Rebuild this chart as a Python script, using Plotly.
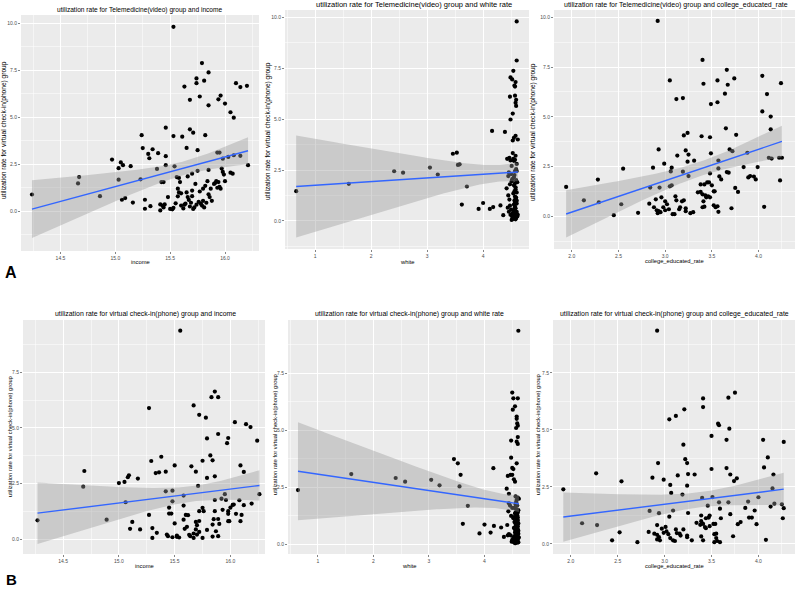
import numpy as np
import plotly.graph_objects as go

W, H = 800, 591

# ---------------- data ----------------
# Panel 1: Telemedicine(video) vs income
inc_video = [
    (14.24,0.89),(14.66,1.48),(14.67,1.82),(14.86,0.80),(14.97,2.75),(15.03,2.29),(15.05,2.60),(15.07,2.45),
    (15.03,1.68),(15.06,0.61),(15.09,0.70),(15.14,2.40),(15.16,0.46),(15.24,4.05),(15.23,1.70),(15.25,3.36),
    (15.30,3.05),(15.31,2.82),(15.34,3.30),(15.39,3.09),(15.38,2.25),(15.27,0.61),(15.27,0.13),(15.32,0.27),
    (15.41,0.36),(15.41,0.04),(15.43,0.30),(15.44,0.20),(15.45,0.36),(15.46,2.93),(15.46,2.45),(15.46,4.45),
    (15.42,1.55),(15.44,1.55),(15.53,9.82),(15.53,4.00),(15.54,2.39),(15.56,1.82),(15.58,1.77),(15.57,0.79),
    (15.59,1.55),(15.61,3.97),(15.63,6.64),(15.65,3.37),(15.68,5.93),(15.68,4.36),(15.71,4.18),(15.74,7.07),
    (15.74,6.82),(15.77,6.11),(15.79,7.89),(15.81,6.95),(15.85,7.39),(15.85,5.64),(15.82,4.05),(15.75,3.25),
    (15.93,3.12),(15.95,3.12),(15.94,5.96),(15.96,6.16),(16.00,5.73),(16.05,5.27),(16.08,4.98),(16.10,6.82),
    (16.14,6.61),(16.20,6.68),(16.21,2.45),(16.14,2.95),(16.08,2.98),(16.03,2.89),(15.98,2.80),(16.05,2.05),
    (16.07,2.00),(15.98,2.09),(15.97,2.27),(15.99,1.95),(15.48,0.75),(15.50,0.12),(15.52,0.10),(15.53,0.18),
    (15.55,0.42),(15.57,1.20),(15.58,1.00),(15.60,0.95),(15.60,0.30),(15.62,0.15),(15.63,0.35),(15.64,0.40),
    (15.65,1.00),(15.66,0.75),(15.67,0.60),(15.68,0.25),(15.69,0.45),(15.70,1.10),(15.70,0.80),(15.71,0.12),
    (15.72,0.20),(15.73,1.45),(15.74,0.35),(15.75,2.15),(15.76,0.50),(15.77,1.05),(15.78,0.40),(15.79,0.30),
    (15.80,1.20),(15.80,0.55),(15.81,0.20),(15.82,1.35),(15.83,0.45),(15.84,1.60),(15.85,0.90),(15.86,0.75),
    (15.87,1.20),(15.88,0.55),(15.90,1.45),(15.91,1.50),(15.93,1.25),(15.94,1.55),(15.95,1.30),(15.96,1.20),
    (16.00,1.60),(15.85,2.20),(15.70,2.00),(15.66,1.85),(15.92,1.60),
]
inc_video_x = [p[0] for p in inc_video]
inc_video_y = [p[1] for p in inc_video]

# Panel 2: Telemedicine(video) vs white
white_video = [
    (0.66,1.46),(1.60,1.82),(2.41,2.44),(2.57,2.37),(3.05,2.62),(3.19,2.28),(3.46,3.30),(3.53,3.35),
    (3.55,2.75),(3.58,2.78),(3.71,1.69),(3.62,0.80),(3.92,0.59),(4.00,0.88),(4.12,0.59),(4.18,0.68),
    (4.16,4.42),(4.31,0.76),(4.36,0.28),(4.39,4.37),
    (4.60,9.80),(4.60,7.88),(4.54,7.37),(4.49,7.05),(4.52,6.95),(4.58,6.82),(4.57,6.60),(4.56,6.65),
    (4.57,6.15),(4.48,6.10),(4.59,5.95),(4.58,5.80),(4.59,5.65),(4.53,5.27),(4.49,4.98),(4.58,4.18),
    (4.55,4.08),(4.62,4.00),(4.53,3.95),(4.53,3.33),(4.58,3.20),(4.47,3.10),(4.43,3.05),(4.49,2.97),
    (4.55,2.95),(4.60,2.80),(4.57,2.45),(4.60,2.45),(4.46,2.38),(4.50,2.30),(4.45,2.20),(4.55,2.15),
    (4.59,2.00),(4.51,1.95),(4.57,1.85),(4.48,1.80),(4.55,1.75),(4.42,1.60),(4.58,1.55),(4.56,1.45),
    (4.60,1.40),(4.45,1.25),(4.57,1.20),(4.58,1.10),(4.47,1.05),(4.56,1.00),(4.59,0.95),(4.57,0.90),
    (4.60,0.85),(4.48,0.75),(4.44,0.65),(4.56,0.60),(4.55,0.50),(4.46,0.45),(4.58,0.40),(4.60,0.35),
    (4.62,0.30),(4.57,0.25),(4.52,0.20),(4.59,0.15),(4.54,0.10),(4.51,0.05),(4.49,0.30),(4.60,0.45),
    (4.56,0.15),(4.53,0.12),(4.58,0.08),(4.55,0.28),(4.61,0.22),(4.50,0.55),(4.57,0.70),(4.59,1.15),
    (4.54,1.35),(4.58,1.65),(4.61,1.90),(4.52,2.05),(4.56,2.25),(4.59,2.55),(4.54,3.05),(4.57,3.00),
    (4.51,2.70),(4.60,1.00),(4.55,0.80),(4.58,0.62),(4.53,0.38),
]
white_video_x = [p[0] for p in white_video]
white_video_y = [p[1] for p in white_video]

# Panel 3: Telemedicine(video) vs college_educated_rate
coll_video = [
    (1.94,1.47),(2.13,0.80),(2.28,1.84),(2.29,0.70),(2.45,0.05),(2.53,0.60),(2.55,2.39),(2.71,0.17),
    (2.83,0.63),(2.84,1.44),(2.87,2.44),(2.92,9.82),(2.93,3.36),(2.94,1.44),(2.99,2.64),(3.05,6.83),
    (3.06,2.25),(3.07,2.44),(3.12,5.89),(3.13,3.05),(3.19,5.94),(3.20,4.06),(3.19,2.24),(3.22,3.31),
    (3.24,2.74),(3.24,4.19),(3.25,3.10),(3.25,2.02),(3.31,2.79),(3.40,7.86),(3.41,6.66),(3.39,4.02),
    (3.49,5.64),(3.48,3.97),(3.49,3.16),(3.48,2.15),(3.56,5.73),(3.56,6.83),(3.57,2.80),(3.57,2.40),
    (3.64,6.16),(3.65,4.42),(3.66,7.36),(3.67,6.61),(3.74,6.93),(3.76,4.09),(3.69,3.36),(3.72,3.27),
    (3.66,2.22),(3.68,2.19),(4.04,7.06),(4.04,5.27),(4.09,6.14),(4.13,5.01),(4.13,4.37),(3.88,3.19),
    (3.84,2.47),(4.24,6.69),(3.99,2.47),(4.11,2.94),(4.14,2.90),(4.22,2.94),(4.25,2.94),(4.23,1.80),
    (3.95,1.99),(3.91,2.02),(3.97,1.85),(3.89,1.95),(4.06,0.47),(3.78,1.22),(3.75,1.42),(3.71,0.40),
    (3.57,0.22),(3.52,0.55),(3.35,1.20),(3.38,1.22),(3.40,1.10),(3.41,0.75),(3.43,1.05),(3.44,0.95),
    (3.42,1.60),(3.45,1.70),(3.47,1.70),(3.46,1.00),(3.48,0.95),(3.50,1.55),(3.52,1.25),(3.53,1.25),
    (3.54,0.45),(3.56,0.50),(3.58,2.00),(3.60,1.85),(3.38,1.60),(3.40,0.45),(3.42,0.48),(3.30,0.20),
    (3.22,0.40),(3.22,0.25),(3.18,0.75),(3.16,0.45),(3.15,0.35),(3.12,0.80),(3.11,1.00),(3.10,0.10),
    (3.08,0.10),(3.07,1.55),(3.05,1.50),(3.04,0.35),(3.02,0.60),(3.00,0.75),(3.00,0.30),(2.98,0.45),
    (2.96,0.95),(2.93,0.25),(2.92,0.15),(2.91,0.30),(2.90,0.85),(2.88,0.45),(2.95,0.20),(3.20,0.80),
    (3.27,0.15),
]
coll_video_x = [p[0] for p in coll_video]
coll_video_y = [p[1] for p in coll_video]

# Panel 4: virtual check-in(phone) vs income
inc_phone = [
    (14.27,0.86),(14.68,2.37),(14.69,3.07),(14.89,0.89),(15.00,2.53),(15.05,2.58),(15.06,1.67),(15.08,2.79),
    (15.09,2.88),(15.10,0.48),(15.12,0.79),(15.17,2.73),(15.19,0.45),(15.27,5.89),(15.27,1.10),(15.29,3.52),
    (15.30,0.51),(15.30,0.07),(15.33,2.98),(15.34,0.30),(15.36,3.01),(15.38,3.71),(15.42,3.04),(15.42,2.16),
    (15.43,0.22),(15.44,0.15),(15.45,1.16),(15.45,1.43),(15.48,0.10),(15.47,1.16),(15.48,2.19),(15.48,1.71),
    (15.50,3.32),(15.50,0.72),(15.52,0.18),(15.52,0.12),(15.54,0.09),(15.55,9.36),(15.58,1.97),(15.58,1.52),
    (15.58,0.89),(15.59,0.48),(15.60,1.10),(15.61,0.57),(15.62,1.09),(15.63,0.21),(15.64,0.15),(15.65,3.28),
    (15.67,6.01),(15.67,0.27),(15.67,0.07),(15.69,3.04),(15.69,0.79),(15.69,0.45),(15.70,0.22),(15.70,0.64),
    (15.71,2.40),(15.72,5.59),(15.72,1.27),(15.72,0.83),(15.72,0.34),(15.75,0.07),(15.75,3.53),(15.75,1.42),
    (15.76,1.27),(15.78,5.46),(15.79,4.53),(15.79,2.76),(15.79,0.43),(15.82,3.77),(15.83,6.38),(15.84,3.55),
    (15.84,0.67),(15.84,0.13),(15.85,0.91),(15.86,2.83),(15.86,6.63),(15.86,1.77),(15.86,1.27),(15.87,0.37),
    (15.89,4.73),(15.89,6.38),(15.89,0.92),(15.89,0.15),(15.90,0.70),(15.92,1.83),(15.93,1.33),(15.95,2.03),
    (15.96,1.77),(15.97,4.32),(15.98,1.27),(15.98,0.82),(15.98,4.55),(15.98,1.15),(15.99,0.82),(16.00,1.43),
    (16.02,1.55),(16.03,1.57),(16.04,5.26),(16.05,1.15),(16.08,1.76),(16.09,3.32),(16.09,0.82),(16.10,1.10),
    (16.12,3.03),(16.12,1.54),(16.14,5.17),(16.18,5.04),(16.19,1.61),(16.24,4.43),(16.26,2.03),
]
inc_phone_x = [p[0] for p in inc_phone]
inc_phone_y = [p[1] for p in inc_phone]

# Panel 5: virtual check-in(phone) vs white
white_phone = [
    (0.64,2.38),(1.60,3.08),(2.40,2.91),(2.57,2.75),(3.04,2.83),(3.19,2.59),(3.45,3.74),(3.52,3.55),
    (3.57,3.05),(3.55,2.54),(3.70,1.69),(3.61,0.90),(3.91,0.48),(4.00,0.87),(4.11,0.52),(4.17,0.81),
    (4.16,3.34),(4.30,0.74),(4.35,0.33),(4.40,2.44),(4.44,2.22),
    (4.61,9.36),(4.50,6.65),(4.52,6.40),(4.60,6.40),(4.55,6.05),(4.51,5.90),(4.58,5.60),(4.58,5.50),
    (4.59,5.30),(4.60,5.20),(4.57,5.10),(4.60,4.70),(4.48,4.55),(4.58,4.50),(4.60,4.40),(4.48,3.80),
    (4.58,3.55),(4.50,3.35),(4.52,3.30),(4.47,3.05),(4.50,3.05),(4.42,3.00),(4.53,2.85),(4.55,2.75),
    (4.56,2.10),(4.60,2.05),(4.62,2.00),(4.58,1.95),(4.44,1.80),(4.56,1.75),(4.46,1.70),(4.50,1.60),
    (4.57,1.55),(4.43,1.45),(4.55,1.35),(4.58,1.30),(4.48,1.25),(4.56,1.20),(4.52,1.15),(4.59,1.10),
    (4.55,1.00),(4.58,0.95),(4.56,0.90),(4.41,0.85),(4.60,0.80),(4.57,0.75),(4.58,0.70),(4.55,0.65),
    (4.56,0.55),(4.59,0.50),(4.44,0.45),(4.47,0.40),(4.60,0.38),(4.56,0.35),(4.52,0.30),(4.58,0.25),
    (4.55,0.20),(4.57,0.15),(4.49,0.12),(4.53,0.10),(4.60,0.08),(4.55,0.05),(4.62,0.30),(4.42,0.40),
    (4.60,1.05),(4.61,0.60),(4.60,1.40),(4.50,0.20),(4.58,0.15),
    (4.57,1.85),(4.59,1.70),(4.54,1.60),(4.61,1.50),(4.56,1.40),(4.59,1.28),(4.53,1.20),(4.60,1.18),
    (4.57,1.05),(4.54,0.98),(4.61,0.92),(4.59,0.85),(4.56,0.78),(4.53,0.72),(4.60,0.68),(4.58,0.60),
    (4.55,0.52),(4.61,0.47),(4.57,0.42),(4.54,0.36),(4.59,0.32),(4.56,0.27),(4.60,0.22),(4.53,0.18),
    (4.58,0.12),(4.61,0.10),(4.56,0.06),
]
white_phone_x = [p[0] for p in white_phone]
white_phone_y = [p[1] for p in white_phone]

# Panel 6: virtual check-in(phone) vs college_educated_rate
coll_phone = [
    (1.92,2.39),(2.12,0.90),(2.27,3.09),(2.28,0.82),(2.44,0.15),(2.52,0.50),(2.54,2.74),(2.71,0.07),
    (2.83,0.52),(2.84,1.44),(2.87,2.90),(2.92,9.35),(2.89,0.44),(2.92,0.82),(2.92,0.39),(2.93,3.54),
    (2.94,1.34),(2.92,0.19),(2.94,0.29),(2.95,0.15),(2.97,0.66),(2.99,2.81),(2.99,0.48),(3.01,0.74),
    (3.02,0.54),(3.04,0.42),(3.05,5.46),(3.05,1.19),(3.06,0.25),(3.06,2.58),(3.07,2.23),(3.09,1.46),
    (3.09,0.15),(3.12,0.63),(3.12,5.61),(3.11,0.12),(3.13,0.47),(3.14,3.00),(3.16,0.44),(3.17,0.36),
    (3.19,2.16),(3.20,0.63),(3.21,5.90),(3.20,4.35),(3.22,3.71),(3.24,0.36),(3.24,0.29),(3.24,3.54),
    (3.24,2.55),(3.25,3.06),(3.25,1.35),(3.29,0.15),(3.32,3.04),(3.34,0.92),(3.38,0.83),(3.39,1.24),
    (3.39,0.99),(3.39,0.32),(3.40,2.01),(3.41,6.38),(3.41,6.00),(3.41,0.15),(3.41,0.87),(3.43,0.73),
    (3.44,1.12),(3.44,0.68),(3.46,1.67),(3.47,1.15),(3.48,0.77),(3.48,1.24),(3.50,4.73),(3.50,3.28),
    (3.51,2.05),(3.52,0.87),(3.53,0.42),(3.53,0.07),(3.54,0.87),(3.55,0.44),(3.55,0.25),(3.56,0.12),
    (3.57,5.27),(3.58,5.20),(3.58,1.82),(3.59,0.07),(3.59,1.54),(3.60,1.12),(3.66,4.56),(3.66,3.32),
    (3.68,1.82),(3.68,6.41),(3.69,5.05),(3.70,1.30),(3.70,3.04),(3.73,0.33),(3.74,2.75),(3.75,6.63),
    (3.77,2.87),(3.78,0.86),(3.81,0.95),(3.86,1.57),(3.89,1.85),(3.90,1.15),(3.93,1.15),(3.96,1.46),
    (3.98,0.86),(4.00,2.04),(4.05,4.56),(4.06,3.35),(4.08,0.17),(4.10,3.79),(4.13,1.63),(4.15,2.43),
    (4.16,3.04),(4.17,1.76),(4.25,1.73),(4.26,1.12),(4.27,4.47),(4.27,1.56),
]
coll_phone_x = [p[0] for p in coll_phone]
coll_phone_y = [p[1] for p in coll_phone]

titles = [
    "utilization rate for Telemedicine(video) group and income",
    "utilization rate for Telemedicine(video) group and white rate",
    "utilization rate for Telemedicine(video) group and college_educated_rate",
    "utilization rate for virtual check-in(phone) group and income",
    "utilization rate for virtual check-in(phone) group and white rate",
    "utilization rate for virtual check-in(phone) group and college_educated_rate",
]
x_titles = ["income", "white", "college_educated_rate"] * 2
y_title = "utilization rate for virtual check-in(phone) group"

# ---------------- helpers ----------------
T975 = 1.98  # t quantile for 95% CI with ~120 obs


def lm_band(x, y, n=100):
    x = np.asarray(x, float)
    y = np.asarray(y, float)
    b, a = np.polyfit(x, y, 1)
    xs = np.linspace(x.min(), x.max(), n)
    yh = a + b * xs
    resid = y - (a + b * x)
    s = np.sqrt(np.sum(resid ** 2) / (len(x) - 2))
    sxx = np.sum((x - x.mean()) ** 2)
    se = s * np.sqrt(1.0 / len(x) + (xs - x.mean()) ** 2 / sxx)
    return xs, yh, yh - T975 * se, yh + T975 * se


def px(xp):
    return xp / W


def py(yp):
    return 1 - yp / H


panels = [
    dict(x=inc_video_x, y=inc_video_y, box=(21, 15, 259, 251), xr=[14.14, 16.31], yr=[-2.12, 10.45],
         dx=0.5, xfmt=".1f", tX=140, tY=10.5, tS=6.6, xtY=262, ytX=4, ytY=130, ytS=6.6),
    dict(x=white_video_x, y=white_video_y, box=(285, 10, 529, 249), xr=[0.46, 4.82], yr=[-1.38, 10.36],
         dx=1, xfmt="d", tX=414, tY=4.5, tS=7.5, xtY=262, ytX=268, ytY=131, ytS=6.6),
    dict(x=coll_video_x, y=coll_video_y, box=(554, 10, 795, 249), xr=[1.81, 4.39], yr=[-1.65, 10.37],
         dx=0.5, xfmt=".1f", tX=676, tY=5, tS=7.0, xtY=261, ytX=533, ytY=132, ytS=6.6),
    dict(x=inc_phone_x, y=inc_phone_y, box=(23, 320, 265, 554), xr=[14.14, 16.31], yr=[-0.65, 9.84],
         dx=0.5, xfmt=".1f", tX=145, tY=314, tS=6.9, xtY=566, ytX=10, ytY=437, ytS=5.8),
    dict(x=white_phone_x, y=white_phone_y, box=(288, 320, 530, 554), xr=[0.46, 4.82], yr=[-0.42, 9.83],
         dx=1, xfmt="d", tX=410, tY=314, tS=6.9, xtY=566, ytX=275, ytY=435, ytS=5.8),
    dict(x=coll_phone_x, y=coll_phone_y, box=(553, 320, 795, 554), xr=[1.81, 4.39], yr=[-0.45, 9.82],
         dx=0.5, xfmt=".1f", tX=674, tY=314, tS=6.9, xtY=566, ytX=538, ytY=435, ytS=5.8),
]

FONT = "Liberation Sans, Arial, sans-serif"
fig = go.Figure()
layout = dict(
    width=W, height=H, margin=dict(l=0, r=0, t=0, b=0),
    paper_bgcolor="white", plot_bgcolor="#EBEBEB", showlegend=False,
    font=dict(family=FONT, color="black"),
)
annotations = []

for i, p in enumerate(panels, start=1):
    xa = "x" if i == 1 else f"x{i}"
    ya = "y" if i == 1 else f"y{i}"
    x0, y0, x1, y1 = p["box"]
    common = dict(
        showgrid=True, gridcolor="white", gridwidth=1, zeroline=False, showline=False,
        ticks="outside", ticklen=2, tickwidth=0.6, tickcolor="#333333",
        tickfont=dict(size=5, color="#4D4D4D", family=FONT),
    )
    layout["xaxis" if i == 1 else f"xaxis{i}"] = dict(
        common, domain=[px(x0), px(x1)], range=p["xr"], anchor=ya,
        dtick=p["dx"], tick0=0, tickformat=p["xfmt"],
        minor=dict(showgrid=True, gridcolor="white", gridwidth=0.5, dtick=p["dx"] / 2, tick0=0),
    )
    layout["yaxis" if i == 1 else f"yaxis{i}"] = dict(
        common, domain=[py(y1), py(y0)], range=p["yr"], anchor=xa,
        dtick=2.5, tick0=0, tickformat=".1f",
        minor=dict(showgrid=True, gridcolor="white", gridwidth=0.5, dtick=1.25, tick0=0),
    )

    xs, yh, lo, hi = lm_band(p["x"], p["y"])
    fig.add_trace(go.Scatter(x=p["x"], y=p["y"], mode="markers", xaxis=xa, yaxis=ya,
                             marker=dict(color="black", size=4.2, line=dict(width=0)),
                             hoverinfo="skip"))
    fig.add_trace(go.Scatter(x=np.concatenate([xs, xs[::-1]]), y=np.concatenate([lo, hi[::-1]]),
                             mode="lines", fill="toself", fillcolor="rgba(153,153,153,0.4)",
                             line=dict(width=0), xaxis=xa, yaxis=ya, hoverinfo="skip"))
    fig.add_trace(go.Scatter(x=xs, y=yh, mode="lines", line=dict(color="#3366FF", width=1.4),
                             xaxis=xa, yaxis=ya, hoverinfo="skip"))

    cx = (x0 + x1) / 2
    annotations.append(dict(text=titles[i - 1], x=px(p["tX"]), y=py(p["tY"]), xref="paper", yref="paper",
                            showarrow=False, xanchor="center", yanchor="middle",
                            font=dict(size=p["tS"], color="black", family=FONT)))
    annotations.append(dict(text=x_titles[i - 1], x=px(cx), y=py(p["xtY"]), xref="paper", yref="paper",
                            showarrow=False, xanchor="center", yanchor="middle",
                            font=dict(size=5.8, color="black", family=FONT)))
    annotations.append(dict(text=y_title, x=px(p["ytX"]), y=py(p["ytY"]), xref="paper", yref="paper",
                            showarrow=False, xanchor="center", yanchor="middle", textangle=-90,
                            font=dict(size=p["ytS"], color="black", family=FONT)))

annotations.append(dict(text="<b>A</b>", x=px(11), y=py(272), xref="paper", yref="paper",
                        showarrow=False, xanchor="center", yanchor="middle",
                        font=dict(size=16, color="black", family=FONT)))
annotations.append(dict(text="<b>B</b>", x=px(11), y=py(579), xref="paper", yref="paper",
                        showarrow=False, xanchor="center", yanchor="middle",
                        font=dict(size=15, color="black", family=FONT)))

layout["annotations"] = annotations
fig.update_layout(**layout)
fig.write_html(
    "out.html",
    config={"displayModeBar": False, "staticPlot": True},
    post_script="document.body.style.margin='0';document.body.style.padding='0';"
                "document.body.style.overflow='hidden';",
)
